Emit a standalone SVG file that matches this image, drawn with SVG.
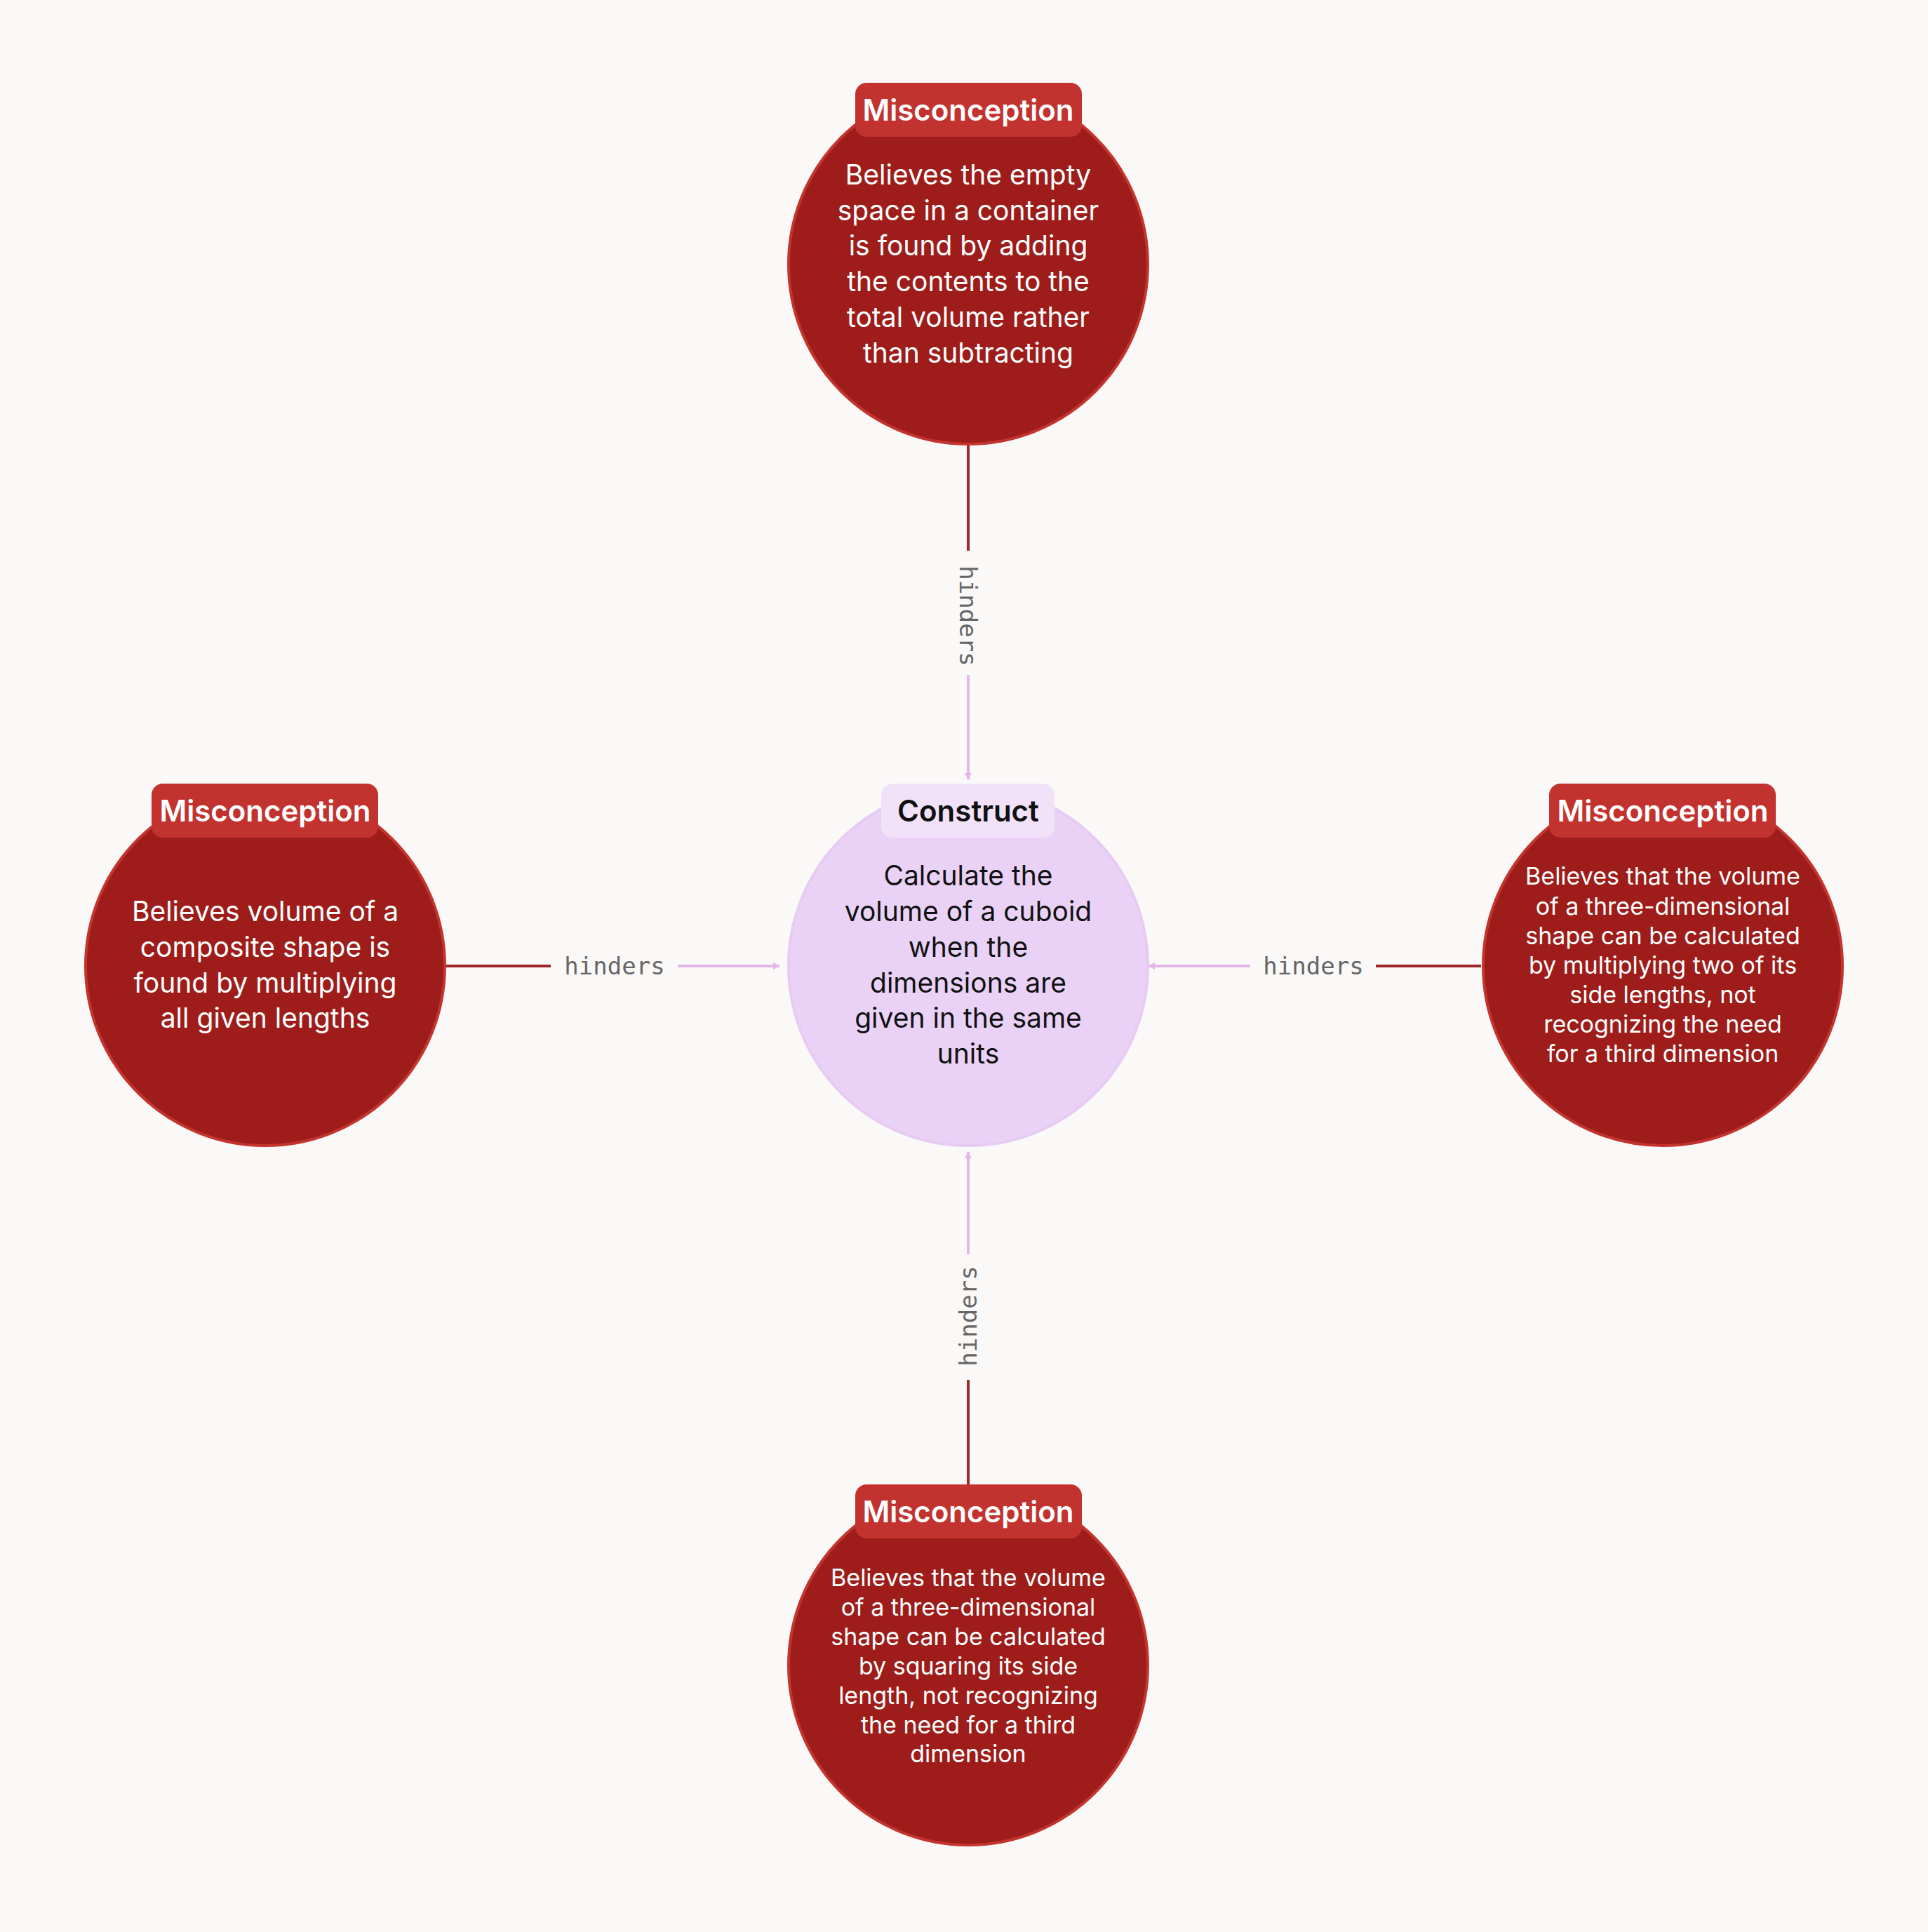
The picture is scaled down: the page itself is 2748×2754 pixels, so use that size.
<svg xmlns="http://www.w3.org/2000/svg" width="2748" height="2754" viewBox="0 0 2748 2754">
<style>
.mc{fill:#9e1d1a;stroke:#c4342f;stroke-width:4}
.mb{fill:#c23330}
.bt{font-family:Inter,"Noto Sans",sans-serif;font-weight:600;font-size:42px;text-anchor:middle;dominant-baseline:central}
.tx{font-family:Inter,"Noto Sans",sans-serif;fill:#fff;text-anchor:middle;dominant-baseline:central}
.big{font-size:39px}.sm{font-size:34px}
.dk{stroke:#a0262a;stroke-width:4;fill:none}
.pk{stroke:#e2b8e8;stroke-width:4;fill:none}
.lb{font-family:"DejaVu Sans Mono","Liberation Mono",monospace;font-size:34px;fill:#666;text-anchor:middle;dominant-baseline:central}
</style>
<defs><marker id="ar" markerWidth="10" markerHeight="10" refX="9" refY="5" orient="auto" markerUnits="userSpaceOnUse" viewBox="0 0 10 10"><path d="M0,0L10,5L0,10z" fill="#e2b8e8"/></marker></defs>
<rect width="2748" height="2754" fill="#faf9f8"/>
<g id="connectors">
<path class="dk" d="M1380,634V785"/><path class="pk" d="M1380,962V1111" marker-end="url(#ar)" style="marker-end:url(#ar)"/>
<text class="lb" transform="translate(1380,878) rotate(90)">hinders</text>
<path class="dk" d="M636,1377H785"/><path class="pk" d="M966,1377H1111" marker-end="url(#ar)"/>
<text class="lb" x="876" y="1377">hinders</text>
<path class="dk" d="M2111,1377H1961"/><path class="pk" d="M1782,1377H1637" marker-end="url(#ar)"/>
<text class="lb" x="1872" y="1377">hinders</text>
<path class="dk" d="M1380,2116V1967"/><path class="pk" d="M1380,1788V1642" marker-end="url(#ar)"/>
<text class="lb" transform="translate(1380,1876) rotate(-90)">hinders</text>
</g>
<g id="center">
<circle cx="1380" cy="1377" r="256" fill="#ead2f6" stroke="#e6cbf3" stroke-width="4"/>
<rect x="1256" y="1117" width="247" height="77" rx="16" fill="#f1e2fa"/>
<text class="bt" x="1380" y="1155" fill="#111">Construct</text>
<text class="tx big" fill="#111" style="fill:#111"><tspan x="1380" y="1247">Calculate the</tspan><tspan x="1380" y="1298">volume of a cuboid</tspan><tspan x="1380" y="1349">when the</tspan><tspan x="1380" y="1400">dimensions are</tspan><tspan x="1380" y="1450">given in the same</tspan><tspan x="1380" y="1501">units</tspan></text>
</g>
<g id="top">
<circle class="mc" cx="1380" cy="377" r="256"/>
<rect class="mb" x="1219" y="118" width="323" height="77" rx="16"/>
<text class="bt" x="1380" y="156" fill="#fff">Misconception</text>
<text class="tx big"><tspan x="1380" y="248">Believes the empty</tspan><tspan x="1380" y="299">space in a container</tspan><tspan x="1380" y="349">is found by adding</tspan><tspan x="1380" y="400">the contents to the</tspan><tspan x="1380" y="451">total volume rather</tspan><tspan x="1380" y="502">than subtracting</tspan></text>
</g>
<g id="left">
<circle class="mc" cx="378" cy="1377" r="256"/>
<rect class="mb" x="216" y="1117" width="323" height="77" rx="16"/>
<text class="bt" x="378" y="1155" fill="#fff">Misconception</text>
<text class="tx big"><tspan x="378" y="1298">Believes volume of a</tspan><tspan x="378" y="1349">composite shape is</tspan><tspan x="378" y="1400">found by multiplying</tspan><tspan x="378" y="1450">all given lengths</tspan></text>
</g>
<g id="right">
<circle class="mc" cx="2370" cy="1377" r="256"/>
<rect class="mb" x="2208" y="1117" width="323" height="77" rx="16"/>
<text class="bt" x="2370" y="1155" fill="#fff">Misconception</text>
<text class="tx sm"><tspan x="2370" y="1248">Believes that the volume</tspan><tspan x="2370" y="1291">of a three-dimensional</tspan><tspan x="2370" y="1333">shape can be calculated</tspan><tspan x="2370" y="1375">by multiplying two of its</tspan><tspan x="2370" y="1417">side lengths, not</tspan><tspan x="2370" y="1459">recognizing the need</tspan><tspan x="2370" y="1501">for a third dimension</tspan></text>
</g>
<g id="bottom">
<circle class="mc" cx="1380" cy="2374" r="256"/>
<rect class="mb" x="1219" y="2116" width="323" height="77" rx="16"/>
<text class="bt" x="1380" y="2154" fill="#fff">Misconception</text>
<text class="tx sm"><tspan x="1380" y="2248">Believes that the volume</tspan><tspan x="1380" y="2290">of a three-dimensional</tspan><tspan x="1380" y="2332">shape can be calculated</tspan><tspan x="1380" y="2374">by squaring its side</tspan><tspan x="1380" y="2416">length, not recognizing</tspan><tspan x="1380" y="2458">the need for a third</tspan><tspan x="1380" y="2499">dimension</tspan></text>
</g>
</svg>
